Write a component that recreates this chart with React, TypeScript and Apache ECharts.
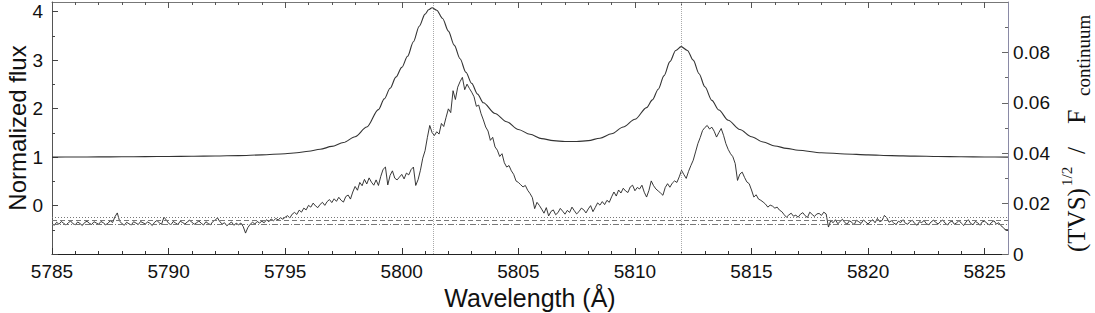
import React, { useEffect, useRef } from "react";
import * as echarts from "echarts";

// Normalized flux profile (wavelength in Å, flux)
const fluxWave = [5785, 5786, 5787, 5788, 5789, 5790, 5791, 5792, 5793, 5794, 5795, 5795.5, 5796, 5796.5, 5797, 5797.5, 5798, 5798.5, 5799, 5799.25, 5799.5, 5799.75, 5800, 5800.25, 5800.5, 5800.75, 5801, 5801.15, 5801.3, 5801.5, 5801.75, 5802, 5802.25, 5802.5, 5802.75, 5803, 5803.25, 5803.5, 5804, 5804.5, 5805, 5805.5, 5806, 5806.5, 5807, 5807.5, 5808, 5808.5, 5809, 5809.5, 5810, 5810.5, 5810.75, 5811, 5811.25, 5811.5, 5811.75, 5811.98, 5812.25, 5812.5, 5812.75, 5813, 5813.3, 5813.6, 5814, 5814.5, 5815, 5815.5, 5816, 5816.5, 5817, 5818, 5819, 5820, 5821, 5822, 5823, 5824, 5825, 5826];
const fluxVal = [1.0, 1.002, 1.004, 1.006, 1.009, 1.012, 1.016, 1.022, 1.03, 1.045, 1.07, 1.09, 1.12, 1.16, 1.22, 1.3, 1.42, 1.62, 1.98, 2.2, 2.42, 2.65, 2.85, 3.08, 3.38, 3.7, 3.95, 4.04, 4.08, 4.03, 3.86, 3.6, 3.31, 3.03, 2.75, 2.52, 2.3, 2.12, 1.9, 1.73, 1.57, 1.47, 1.38, 1.34, 1.32, 1.32, 1.34, 1.39, 1.48, 1.62, 1.78, 2.02, 2.18, 2.4, 2.68, 2.97, 3.2, 3.28, 3.2, 3.0, 2.72, 2.45, 2.17, 1.97, 1.76, 1.57, 1.42, 1.31, 1.23, 1.18, 1.14, 1.09, 1.065, 1.045, 1.03, 1.02, 1.012, 1.006, 1.003, 1.0];

// TVS^(1/2)/F_continuum, sampled every 0.1 Å from 5785.0, in units of 1e-3
const tvsStart = 5785.0;
const tvsStep = 0.1;
const tvsMilli = [
  12.0, 11.4, 12.6, 11.8, 12.9, 12.2, 11.5, 12.4, 13.1, 12.0,
  11.6, 12.7, 12.1, 11.3, 12.5, 13.0, 12.2, 11.7, 12.8, 12.3,
  11.8, 12.9, 12.4, 11.6, 12.2, 13.2, 12.5, 14.8, 16.3, 13.0,
  12.1, 11.4, 12.6, 12.0, 11.5, 12.8, 12.3, 11.7, 12.9, 12.4,
  11.9, 12.7, 12.2, 11.3, 12.6, 13.3, 12.4, 11.8, 14.6, 13.5,
  12.2, 11.6, 12.9, 12.3, 11.7, 13.0, 12.5, 11.9, 12.7, 13.4,
  12.6, 11.8, 12.4, 13.1, 12.2, 11.5, 12.8, 12.1, 11.6, 12.9,
  13.5, 14.3, 12.8, 11.9, 12.4, 11.2, 12.0, 12.7, 11.4, 12.2,
  11.6, 12.3, 10.9, 8.3, 10.5, 11.8, 12.6, 11.9, 12.9, 12.3,
  13.0, 12.4, 13.6, 12.8, 13.9, 13.2, 14.1, 13.5, 14.4, 13.8,
  14.6, 15.2, 14.3, 15.8, 16.5, 15.7, 17.4, 16.6, 18.2, 17.5,
  19.3, 18.6, 20.2, 19.1, 18.4, 19.7, 20.5, 19.3, 20.8, 21.6,
  20.4, 21.9, 20.9, 22.5, 21.3, 20.6, 22.8, 23.4, 21.8, 24.6,
  26.8, 25.3, 28.4, 27.1, 29.6, 27.8, 30.2, 28.5, 27.3, 29.4,
  27.2, 30.8, 33.6, 34.5, 27.4, 31.2, 33.0, 30.1, 29.4, 30.5,
  31.6, 29.8, 32.1, 31.4, 33.5, 34.5, 27.2, 29.5, 33.2, 38.0,
  41.0, 46.3, 51.0, 48.2, 47.0, 48.5, 47.6, 51.8, 50.6, 54.2,
  57.6, 56.1, 64.8, 61.3, 66.2, 68.4, 70.1, 65.2, 67.4, 65.7,
  64.2, 62.4, 58.6, 59.1, 55.7, 53.2, 50.4, 48.8, 45.1, 46.3,
  42.5, 41.2, 38.7, 39.8, 36.2, 34.5, 35.1, 33.0, 31.6, 29.0,
  28.4, 27.5, 26.6, 27.2, 25.3, 24.0, 22.4, 18.0, 20.5, 19.3,
  17.8, 16.2, 18.4, 15.1, 16.9, 17.5, 15.6, 16.4, 18.1, 17.0,
  15.8, 17.3, 16.5, 18.6, 17.2, 15.9, 16.8, 18.2, 17.6, 16.3,
  17.9, 19.2, 16.8, 18.5, 20.3, 19.4, 20.8, 19.6, 21.3, 20.5,
  22.7, 24.6, 23.0, 25.4, 24.2, 26.1, 25.0, 24.4, 26.6, 27.3,
  25.1, 26.4, 25.8, 27.3, 24.5, 22.6, 25.2, 29.0, 27.1, 25.8,
  25.0, 24.2, 23.3, 26.4, 27.9, 26.5, 28.1, 29.0, 28.4, 30.6,
  33.2, 31.5, 30.0, 32.8, 35.1, 37.2, 40.5, 43.8, 46.2, 49.0,
  50.2, 51.0, 49.6, 50.3, 48.7, 46.4, 48.2, 49.8, 47.1, 43.8,
  41.5, 39.8, 38.6, 35.9, 29.2, 31.7, 32.5, 30.4, 28.6, 27.9,
  25.4, 22.6, 23.5, 21.8, 21.3, 20.6, 19.8, 18.6, 19.4, 19.0,
  18.2, 18.6, 17.4, 16.8, 15.6, 14.6, 15.5, 16.2, 15.0, 15.4,
  14.6, 15.8, 16.4, 15.2, 14.5, 16.6, 15.7, 14.9, 15.9, 16.1,
  15.3, 16.6, 15.9, 10.7, 13.3, 12.4, 13.6, 12.0, 12.9, 13.8,
  12.5, 11.8, 13.2, 12.6, 11.6, 13.4, 12.8, 12.1, 13.5, 12.7,
  11.9, 12.9, 13.6, 12.4, 14.1, 12.8, 13.3, 15.3, 14.4, 12.6,
  13.2, 12.3, 11.7, 13.0, 12.5, 13.6, 12.2, 11.8, 12.9, 13.4,
  12.1, 11.4, 12.8, 12.5, 13.3, 12.0, 11.6, 12.7, 13.4, 12.6,
  11.9, 12.8, 13.5, 12.3, 11.5, 12.6, 13.1, 11.8, 12.4, 13.3,
  12.2, 11.3, 12.7, 13.6, 12.1, 11.6, 12.9, 12.4, 11.4, 12.8,
  13.0, 12.2, 11.5, 12.6, 13.2, 11.9, 12.4, 11.2, 10.5, 9.4,
  9.3,
];

// Rest wavelengths of the two lines (vertical dotted markers)
const lineCenters = [5801.33, 5811.98];
// Significance levels on the TVS axis (dotted, dashed, dash-dot)
const tvsLevels = [0.0144, 0.0134, 0.012];

// Axis ticks
const xMajor = [5785, 5790, 5795, 5800, 5805, 5810, 5815, 5820, 5825];
const xMinor = [5786, 5787, 5788, 5789, 5791, 5792, 5793, 5794, 5796, 5797, 5798, 5799, 5801, 5802, 5803, 5804, 5806, 5807, 5808, 5809, 5811, 5812, 5813, 5814, 5816, 5817, 5818, 5819, 5821, 5822, 5823, 5824];
const yLeftMajor = [-1, 0, 1, 2, 3, 4];
const yLeftLabels = [0, 1, 2, 3, 4];
const yLeftMinor = [-0.5, 0.5, 1.5, 2.5, 3.5];
const yRightMajor = [0, 0.02, 0.04, 0.06, 0.08];
const yRightMinor = [0.01, 0.03, 0.05, 0.07, 0.09];

const SANS = "'Liberation Sans', Arial, Helvetica, sans-serif";
const SERIF = "'Liberation Serif', 'Times New Roman', serif";

export default function App() {
  const ref = useRef<HTMLDivElement>(null);

  useEffect(() => {
    if (!ref.current) return;
    const chart = echarts.init(ref.current, undefined, { renderer: "svg" });

    const xMin = 5785;
    const xMax = 5826;
    const baseX = {
      type: "value",
      min: xMin,
      max: xMax,
      interval: 5,
      splitLine: { show: false },
    };

    const fluxData = fluxWave.map((w, i) => [w, fluxVal[i]]);
    const tvsData = tvsMilli.map((v, i) => [
      Math.round((tvsStart + i * tvsStep) * 10) / 10,
      v / 1000,
    ]);

    const option: any = {
      animation: false,
      grid: { left: 52, right: 87, top: 2, bottom: 59, outerBoundsMode: "none", containLabel: false },
      xAxis: [
        {
          ...baseX,
          position: "bottom",
          axisLine: { show: true, onZero: false, lineStyle: { color: "#222", width: 1 } },
          axisTick: { show: true, inside: true, length: 6, customValues: xMajor, lineStyle: { color: "#333" } },
          axisLabel: {
            show: true,
            customValues: xMajor,
            fontSize: 19,
            color: "#111",
            fontFamily: SANS,
            margin: 8,
            formatter: (v: number) => String(v),
          },
          name: "Wavelength (Å)",
          nameLocation: "middle",
          nameGap: 31,
          nameTextStyle: { fontSize: 25, color: "#111", fontFamily: SANS },
        },
        {
          ...baseX,
          position: "bottom",
          axisLine: { show: false, onZero: false },
          axisTick: { show: true, inside: true, length: 3, customValues: xMinor, lineStyle: { color: "#333" } },
          axisLabel: { show: false },
        },
        {
          ...baseX,
          position: "top",
          axisLine: { show: true, onZero: false, lineStyle: { color: "#777", width: 1 } },
          axisTick: { show: true, inside: true, length: 6, customValues: xMajor, lineStyle: { color: "#555" } },
          axisLabel: { show: false },
        },
        {
          ...baseX,
          position: "top",
          axisLine: { show: false, onZero: false },
          axisTick: { show: true, inside: true, length: 3, customValues: xMinor, lineStyle: { color: "#555" } },
          axisLabel: { show: false },
        },
      ],
      yAxis: [
        {
          type: "value",
          position: "left",
          min: -1,
          max: 4.2,
          interval: 1,
          splitLine: { show: false },
          axisLine: { show: true, onZero: false, lineStyle: { color: "#555", width: 1 } },
          axisTick: { show: true, inside: true, length: 6, customValues: yLeftMajor, lineStyle: { color: "#444" } },
          axisLabel: { show: true, customValues: yLeftLabels, fontSize: 19, color: "#111", fontFamily: SANS, margin: 9 },
          name: "Normalized flux",
          nameLocation: "middle",
          nameRotate: 90,
          nameGap: 23,
          nameMoveOverlap: false,
          nameTextStyle: { fontSize: 24, color: "#111", fontFamily: SANS },
        },
        {
          type: "value",
          position: "left",
          min: -1,
          max: 4.2,
          interval: 1,
          splitLine: { show: false },
          axisLine: { show: false, onZero: false },
          axisTick: { show: true, inside: true, length: 3, customValues: yLeftMinor, lineStyle: { color: "#444" } },
          axisLabel: { show: false },
        },
        {
          type: "value",
          position: "right",
          min: 0,
          max: 0.1,
          interval: 0.02,
          splitLine: { show: false },
          axisLine: { show: true, onZero: false, lineStyle: { color: "#8a8aa6", width: 1 } },
          axisTick: { show: true, inside: true, length: 6, customValues: yRightMajor, lineStyle: { color: "#666" } },
          axisLabel: {
            show: true,
            customValues: yRightMajor,
            fontSize: 19,
            color: "#111",
            fontFamily: SANS,
            margin: 5,
            formatter: (v: number) => (v === 0 ? "0" : v.toFixed(2)),
          },
        },
        {
          type: "value",
          position: "right",
          min: 0,
          max: 0.1,
          interval: 0.02,
          splitLine: { show: false },
          axisLine: { show: false, onZero: false },
          axisTick: { show: true, inside: true, length: 3, customValues: yRightMinor, lineStyle: { color: "#666" } },
          axisLabel: { show: false },
        },
      ],
      series: [
        {
          name: "flux",
          type: "line",
          xAxisIndex: 0,
          yAxisIndex: 0,
          data: fluxData,
          showSymbol: false,
          symbol: "none",
          smooth: 0.3,
          smoothMonotone: "x",
          lineStyle: { color: "#333", width: 1.1 },
          silent: true,
          markLine: {
            silent: true,
            precision: 4,
            symbol: ["none", "none"],
            label: { show: false },
            lineStyle: { color: "#aaa", type: "dotted", width: 1 },
            data: lineCenters.map((c) => ({ xAxis: c })),
          },
        },
        {
          name: "tvs",
          type: "line",
          xAxisIndex: 0,
          yAxisIndex: 2,
          data: tvsData,
          showSymbol: false,
          symbol: "none",
          lineStyle: { color: "#222", width: 0.9 },
          silent: true,
          markLine: {
            silent: true,
            precision: 5,
            symbol: ["none", "none"],
            label: { show: false },
            data: [
              { yAxis: tvsLevels[0], lineStyle: { color: "#777", type: [1, 2], width: 1 } },
              { yAxis: tvsLevels[1], lineStyle: { color: "#777", type: [5, 3], width: 1 } },
              { yAxis: tvsLevels[2], lineStyle: { color: "#777", type: [6, 2, 1, 2], width: 1 } },
            ],
          },
        },
      ],
      graphic: [
        {
          type: "group",
          x: 1076,
          y: 252,
          rotation: Math.PI / 2,
          silent: true,
          children: [
            { type: "text", x: 0, y: 0, style: { text: "(TVS)", font: `25px ${SERIF}`, fill: "#111", verticalAlign: "middle", align: "left" } },
            { type: "text", x: 66, y: -9, style: { text: "1/2", font: `15px ${SERIF}`, fill: "#111", verticalAlign: "middle", align: "left" } },
            { type: "text", x: 98, y: 0, style: { text: "/", font: `25px ${SERIF}`, fill: "#111", verticalAlign: "middle", align: "left" } },
            { type: "text", x: 128, y: 0, style: { text: "F", font: `26px ${SERIF}`, fill: "#111", verticalAlign: "middle", align: "left" } },
            { type: "text", x: 156, y: 7, style: { text: "continuum", font: `19px ${SERIF}`, fill: "#111", verticalAlign: "middle", align: "left" } },
          ],
        },
      ],
    };

    chart.setOption(option);
    return () => chart.dispose();
  }, []);

  return (
    <div
      ref={ref}
      style={{ position: "absolute", left: 0, top: 0, width: 1095, height: 313, background: "#fff" }}
    />
  );
}
